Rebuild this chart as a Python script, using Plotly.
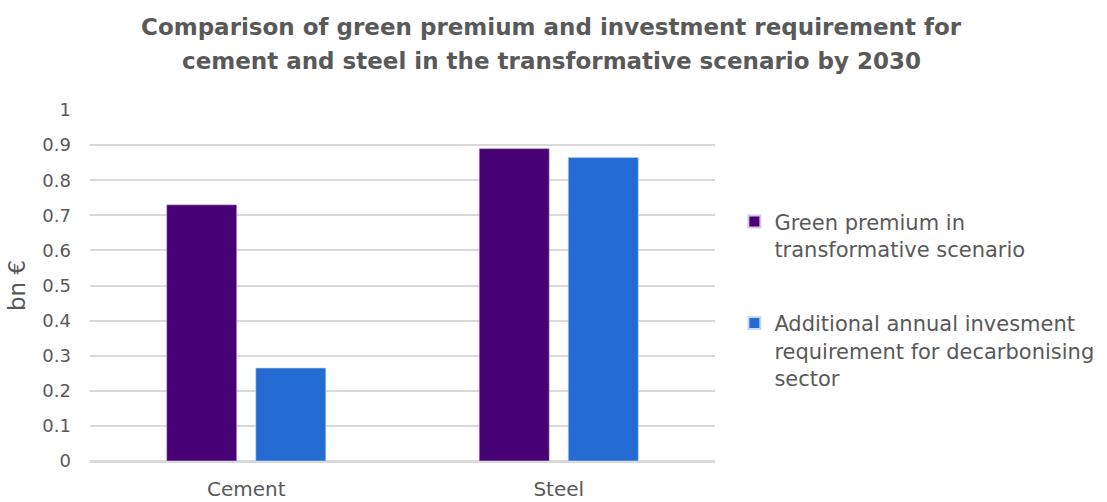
import plotly.graph_objects as go

# Sector categories and the two compared series (bn €)
sectors = ["Cement", "Steel"]
green_premium = [0.73, 0.89]
investment_requirement = [0.265, 0.865]
series_names = [
    "Green premium in<br>transformative scenario",
    "Additional annual invesment<br>requirement for decarbonising<br>sector",
]
y_ticks = [0, 0.1, 0.2, 0.3, 0.4, 0.5, 0.6, 0.7, 0.8, 0.9, 1]
title_lines = [
    "Comparison of green premium and investment requirement for",
    "cement and steel in the transformative scenario by 2030",
]

PURPLE = "#480075"
BLUE = "#246CD3"
TEXT = "#595959"
GRID = "#d9d9d9"
FONT = "DejaVu Sans"

fig = go.Figure()
fig.add_trace(go.Bar(
    x=sectors, y=green_premium, name=series_names[0],
    marker=dict(color=PURPLE, line=dict(color="#d6c8e2", width=0.6)),
    legendgroup="a",
))
fig.add_trace(go.Bar(
    x=sectors, y=investment_requirement, name=series_names[1],
    marker=dict(color=BLUE, line=dict(color="#c8dbf5", width=0.6)),
    legendgroup="b",
))

# Two-line bold title, drawn as centred annotations above the plot
for text, ypos in zip(title_lines, [1.237, 1.139]):
    fig.add_annotation(
        text=f"<b>{text}</b>", xref="paper", yref="paper",
        x=(551 - 90) / 625, y=ypos, xanchor="center", yanchor="middle",
        showarrow=False,
        font=dict(family="DejaVu Sans", size=23, color=TEXT),
    )

fig.update_layout(
    width=1107, height=502,
    margin=dict(l=90, r=392, t=110, b=41, autoexpand=False),
    paper_bgcolor="white", plot_bgcolor="white",
    barmode="group", bargap=0.43, bargroupgap=0.213,
    font=dict(family=FONT, size=18, color=TEXT),
    legend=dict(
        x=1.031, xanchor="left", y=0.74, yanchor="top",
        font=dict(family=FONT, size=21, color=TEXT),
        tracegroupgap=44, itemsizing="constant", valign="top",
        bgcolor="rgba(0,0,0,0)",
    ),
    showlegend=True,
)
fig.update_xaxes(
    automargin=False,
    showgrid=False, showline=True, linecolor=GRID, linewidth=1.5,
    ticks="", ticklabelstandoff=9, tickfont=dict(size=20, color=TEXT),
)
fig.update_yaxes(
    automargin=False,
    range=[0, 1], tickvals=y_ticks, ticktext=[f"{v:g}" for v in y_ticks],
    showgrid=True, gridcolor=GRID, gridwidth=1.5,
    zeroline=True, zerolinecolor=GRID, zerolinewidth=1.5,
    showline=False, ticks="", ticklabelstandoff=18,
    tickfont=dict(size=18, color=TEXT),
    title=dict(text="bn €", font=dict(size=23, color=TEXT), standoff=10),
)

fig.write_html("out.html")
